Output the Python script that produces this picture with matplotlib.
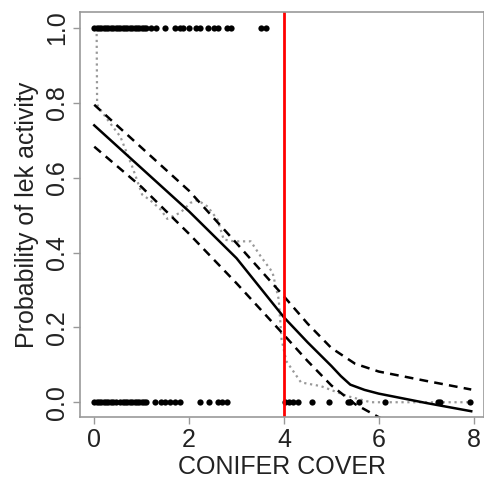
import matplotlib
matplotlib.use("Agg")
import matplotlib.pyplot as plt
import numpy as np

plt.rcParams["font.family"] = ["Liberation Sans", "DejaVu Sans"]

# observed leks: active (1) and inactive (0)
active_x = [0.0, 0.05, 0.1, 0.15, 0.2, 0.25, 0.3, 0.35, 0.4, 0.45, 0.5, 0.55,
            0.6, 0.65, 0.7, 0.75, 0.8, 0.85, 0.9, 0.95, 1.0, 1.05, 1.1,
            1.2, 1.3, 1.5, 1.71, 1.8, 1.88, 1.99, 2.14, 2.24, 2.39, 2.52,
            2.62, 2.81, 2.88, 3.52, 3.62]
inactive_x = [0.0, 0.05, 0.1, 0.15, 0.2, 0.25, 0.3, 0.35, 0.4, 0.45, 0.55,
              0.6, 0.65, 0.7, 0.75, 0.8, 0.85, 0.9, 0.95, 1.0, 1.05, 1.1,
              1.29, 1.4, 1.5, 1.6, 1.7, 1.8, 2.24, 2.41, 2.62, 2.7, 2.8,
              4.02, 4.1, 4.2, 4.3, 4.6, 4.95, 5.35, 5.4, 5.58, 6.13,
              7.25, 7.3, 7.92]

# fitted model and confidence band
fit_x = [0, 1, 2, 3, 4, 4.5, 5, 5.2, 5.4, 5.7, 6, 7, 7.95]
fit_y = [0.74, 0.625, 0.51, 0.385, 0.227, 0.16, 0.097, 0.07, 0.047, 0.033,
         0.023, -0.002, -0.024]
upper_x = [0, 1, 2, 3, 4, 4.5, 5, 5.5, 6, 7, 7.95]
upper_y = [0.795, 0.68, 0.565, 0.425, 0.283, 0.21, 0.145, 0.103, 0.082,
           0.057, 0.034]
lower_x = [0, 1, 2, 3, 4, 4.5, 5, 5.5, 6, 6.5]
lower_y = [0.683, 0.575, 0.45, 0.318, 0.18, 0.11, 0.045, -0.005, -0.04, -0.07]

# binned observed proportion (dotted)
obs_x = [0.05, 0.06, 0.08, 0.34, 0.55, 0.8, 1.01, 1.18, 1.4, 1.54, 1.82, 2.03,
         2.18, 2.39, 2.6, 2.73, 2.94, 3.3, 3.51, 3.76, 3.89, 3.95, 4.05, 4.36,
         4.78, 5.35, 5.83, 6.5, 7.3, 7.92]
obs_y = [1.0, 0.80, 0.79, 0.745, 0.71, 0.63, 0.555, 0.54, 0.515, 0.49, 0.507,
         0.533, 0.54, 0.523, 0.488, 0.435, 0.43, 0.43, 0.39, 0.347, 0.275,
         0.168, 0.11, 0.053, 0.043, 0.016, 0.0, 0.0, 0.0, 0.0]

threshold = 4

fig = plt.figure(figsize=(4.85, 4.79), dpi=100)
ax = fig.add_axes([0.165, 0.129, 0.833, 0.846])

ax.plot(obs_x, obs_y, ls=":", color="#999999", lw=1.6)
ax.plot(active_x, np.ones(len(active_x)), "o", color="black", ms=4.5, mew=0)
ax.plot(inactive_x, np.zeros(len(inactive_x)), "o", color="black", ms=4.5, mew=0)
ax.plot(fit_x, fit_y, color="black", lw=1.8)
ax.plot(upper_x, upper_y, color="black", lw=1.8, dashes=(3.5, 2.5))
ax.plot(lower_x, lower_y, color="black", lw=1.8, dashes=(3.5, 2.5))
ax.axvline(threshold, color="red", lw=2)

ax.set_xlim(-0.3, 8.22)
ax.set_ylim(-0.04, 1.043)
ax.set_xticks([0, 2, 4, 6, 8])
ax.set_yticks([0.0, 0.2, 0.4, 0.6, 0.8, 1.0])
ax.set_yticklabels(["0.0", "0.2", "0.4", "0.6", "0.8", "1.0"], rotation=90, va="center")

for s in ax.spines.values():
    s.set_color("#999999")
    s.set_linewidth(1.2)
ax.tick_params(direction="out", length=5, width=1, color="#999999",
               labelsize=18, labelcolor="#222222", pad=3)

ax.set_xlabel("CONIFER COVER", fontsize=18, color="#222222", labelpad=2)
ax.set_ylabel("Probability of lek activity", fontsize=18, color="#222222", labelpad=4)

fig.savefig("out.png", dpi=100)
